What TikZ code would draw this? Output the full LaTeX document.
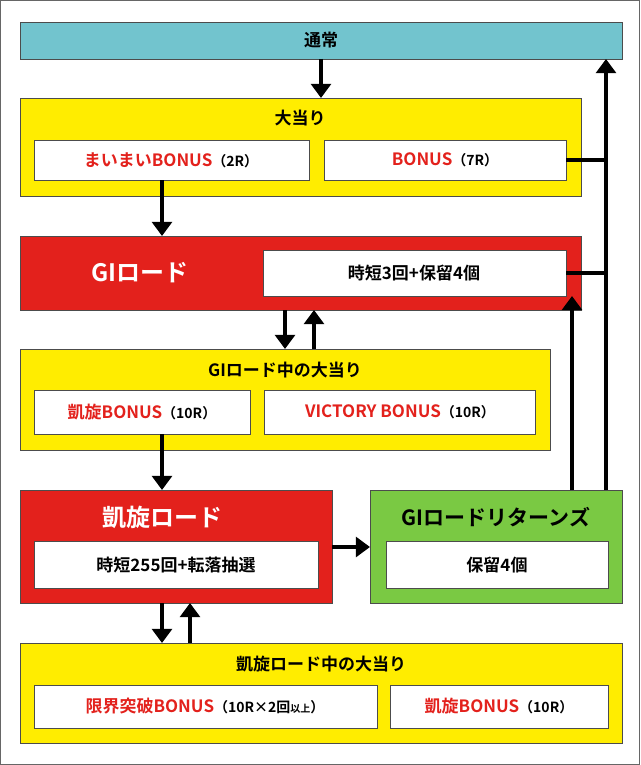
\documentclass[tikz,border=0pt]{standalone}
\usepackage{fontspec}
\setmainfont{Noto Sans CJK JP}[BoldFont=* Bold]
\usetikzlibrary{arrows.meta}
\definecolor{tsujo}{HTML}{72C4CE}
\definecolor{ylw}{HTML}{FFED00}
\definecolor{rd}{HTML}{E3211C}
\definecolor{grn}{HTML}{7AC943}
\tikzset{>={Triangle[width=7mm,length=5mm]}}

\begin{document}
\begin{tikzpicture}[x=1pt,y=-1pt,
    box/.style={draw=black!70, line width=0.8pt},
    wbox/.style={box, fill=white},
    lbl/.style={font=\bfseries\fontsize{17}{17}\selectfont},
    big/.style={font=\bfseries\fontsize{24}{24}\selectfont},
    arr/.style={->, line width=4.5pt}]

    %Frame
    \draw[black!60, line width=1pt, fill=white] (0.5,0.5) rectangle (639.5,764.5);

    %Boxes
    \draw[box, fill=tsujo] (20,22) rectangle (622,59);
    \node[lbl] (tsujo) at (321,40) {通常};
    \coordinate (tsujoS) at (321,59);

    \draw[box, fill=ylw] (20,98) rectangle (581,196);
    \node[lbl] (oatari) at (300,118) {大当り};
    \coordinate (oatariN) at (321,98);
    \draw[wbox] (34,140) rectangle (309,180);
    \node[lbl, text=rd] (maimai) at (171,160) {まいまいBONUS\textcolor{black}{\fontsize{14}{14}\selectfont（2R）}};
    \coordinate (maimaiS) at (162,180);
    \draw[wbox] (324,140) rectangle (566,180);
    \node[lbl, text=rd] (bonus) at (445,160) {BONUS\textcolor{black}{\fontsize{14}{14}\selectfont（7R）}};
    \coordinate (bonusE) at (566,160);

    \draw[box, fill=rd] (20,236) rectangle (581,310);
    \node[big, text=white] (giroad) at (140,273) {GIロード};
    \coordinate (giroadN) at (162,236);
    \draw[wbox] (263,250) rectangle (566,296);
    \node[lbl] (jitan) at (414,273) {時短3回+保留4個};
    \coordinate (jitanE) at (566,273);
    \coordinate (jitanS) at (572,296);

    \draw[box, fill=ylw] (20,349) rectangle (550,450);
    \node[lbl] (gichu) at (285,370) {GIロード中の大当り};
    \draw[wbox] (34,390) rectangle (250,434);
    \node[lbl, text=rd] (gaisen) at (142,412) {凱旋BONUS\textcolor{black}{\fontsize{14}{14}\selectfont（10R）}};
    \coordinate (gaisenS) at (162,434);
    \draw[wbox] (264,390) rectangle (535,434);
    \node[lbl, text=rd] (victory) at (400,412) {VICTORY BONUS\textcolor{black}{\fontsize{14}{14}\selectfont（10R）}};

    \draw[box, fill=rd] (20,490) rectangle (332,603);
    \node[big, text=white] (groad) at (162,517) {凱旋ロード};
    \draw[wbox] (34,541) rectangle (318,588);
    \node[lbl] (jitan2) at (176,565) {時短255回+転落抽選};

    \draw[box, fill=grn] (370,490) rectangle (622,603);
    \node[font=\bfseries\fontsize{21}{21}\selectfont] (returns) at (496,517) {GIロードリターンズ};
    \draw[wbox] (386,541) rectangle (608,588);
    \node[lbl] (horyu) at (497,565) {保留4個};

    \draw[box, fill=ylw] (20,643) rectangle (622,743);
    \node[lbl] (gchu) at (321,664) {凱旋ロード中の大当り};
    \draw[wbox] (34,685) rectangle (377,728);
    \node[lbl, text=rd] (genkai) at (205,706) {限界突破BONUS\textcolor{black}{\fontsize{14}{14}\selectfont（10R×2回{\fontsize{10}{10}\selectfont 以上}）}};
    \draw[wbox] (390,685) rectangle (608,728);
    \node[lbl, text=rd] (gaisen2) at (499,706) {凱旋BONUS\textcolor{black}{\fontsize{14}{14}\selectfont（10R）}};

    %Lines
    \draw[arr] (tsujoS) -- (oatariN);
    \draw[arr] (maimaiS) -- (giroadN);
    \draw[arr] (285,310) -- (285,349);
    \draw[arr] (314,349) -- (314,310);
    \draw[arr] (gaisenS) -- (162,490);
    \draw[arr] (332,547) -- (370,547);
    \draw[arr] (162,603) -- (162,643);
    \draw[arr] (190,643) -- (190,603);
    \draw[arr] (572,490) -- (jitanS);
    \draw[arr] (606,490) -- (606,59);
    \draw[line width=4.5pt] (bonusE) -- (606,160);
    \draw[line width=4.5pt] (jitanE) -- (606,273);

\end{tikzpicture}
\end{document}
